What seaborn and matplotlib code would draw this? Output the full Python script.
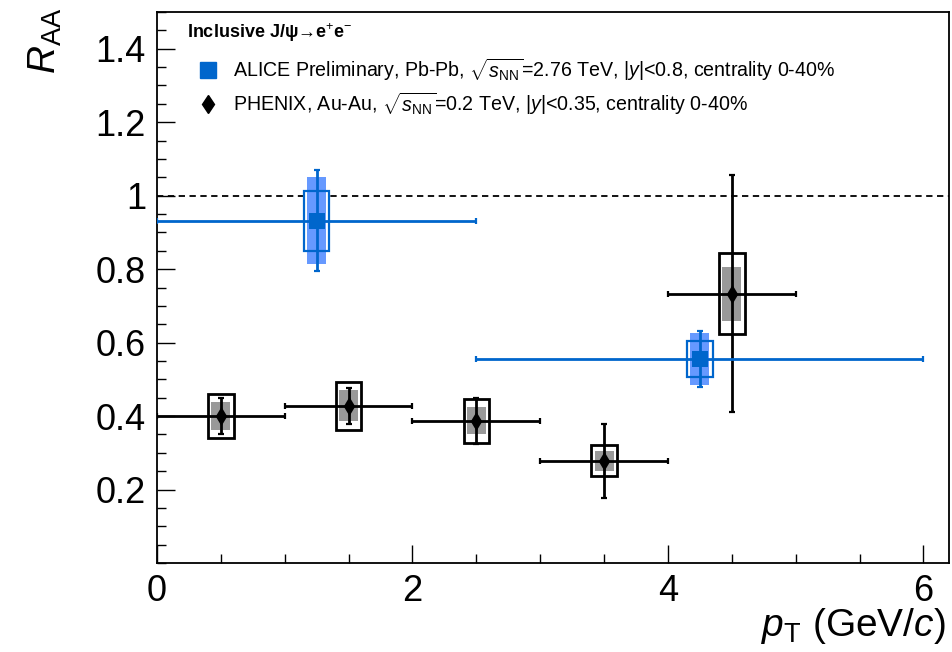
import numpy as np
import pandas as pd
import matplotlib
matplotlib.use("Agg")
import matplotlib.pyplot as plt
import seaborn as sns
from matplotlib.patches import Rectangle
from matplotlib.lines import Line2D
from matplotlib.ticker import MultipleLocator, FixedLocator

# ---------------- data ----------------
alice_pt = [1.25, 4.25]
alice_pt_lo = [0.0, 2.5]
alice_pt_hi = [2.5, 6.0]
alice_raa = [0.932, 0.556]
alice_stat = [0.138, 0.076]
alice_sys_unc = [0.082, 0.049]   # open box half-height
alice_sys_cor = [0.118, 0.071]   # filled box half-height

phenix_pt = [0.5, 1.5, 2.5, 3.5, 4.5]
phenix_pt_lo = [0.0, 1.0, 2.0, 3.0, 4.0]
phenix_pt_hi = [1.0, 2.0, 3.0, 4.0, 5.0]
phenix_raa = [0.400, 0.428, 0.387, 0.278, 0.733]
phenix_stat = [0.050, 0.049, 0.063, 0.100, 0.322]
phenix_sys_unc = [0.061, 0.065, 0.059, 0.042, 0.110]
phenix_sys_cor = [0.039, 0.042, 0.037, 0.027, 0.073]

xticks = [0, 2, 4, 6]
yticks = [0.2, 0.4, 0.6, 0.8, 1.0, 1.2, 1.4]
ytick_labels = ["0.2", "0.4", "0.6", "0.8", "1", "1.2", "1.4"]

alice_label = r"ALICE Preliminary, Pb-Pb, $\sqrt{s_{\rm NN}}$=2.76 TeV, $|y|$<0.8, centrality 0-40%"
phenix_label = r"PHENIX, Au-Au, $\sqrt{s_{\rm NN}}$=0.2 TeV, $|y|$<0.35, centrality 0-40%"
title_label = "Inclusive J/\u03c8\u2192e$^{+}$e$^{-}$"

# ---------------- style ----------------
sns.set_style("ticks")
plt.rcParams["font.family"] = ["Liberation Sans", "DejaVu Sans"]
plt.rcParams["mathtext.fontset"] = "custom"
plt.rcParams["mathtext.rm"] = "Liberation Sans"
plt.rcParams["mathtext.it"] = "Liberation Sans:italic"
plt.rcParams["mathtext.bf"] = "Liberation Sans:bold"
plt.rcParams["text.color"] = "black"
plt.rcParams["xtick.color"] = "black"
plt.rcParams["ytick.color"] = "black"
plt.rcParams["xtick.labelcolor"] = "black"
plt.rcParams["ytick.labelcolor"] = "black"

BLUE = "#0066cc"
LIGHTBLUE = "#6699ff"
GRAY = "#999999"

W, H = 953, 652
fig = plt.figure(figsize=(W / 100, H / 100), dpi=100)
L, R, T, B = 157, 949, 12, 563
ax = fig.add_axes([L / W, 1 - B / H, (R - L) / W, (B - T) / H])
ax.set_xlim(0, 6.2)
ax.set_ylim(0, 1.5)

# reference line
ax.axhline(1.0, color="black", lw=1.3, ls=(0, (3.5, 2.5)), zorder=1)

df_a = pd.DataFrame(dict(pt=alice_pt, lo=alice_pt_lo, hi=alice_pt_hi, raa=alice_raa,
                         stat=alice_stat, su=alice_sys_unc, sc=alice_sys_cor))
df_p = pd.DataFrame(dict(pt=phenix_pt, lo=phenix_pt_lo, hi=phenix_pt_hi, raa=phenix_raa,
                         stat=phenix_stat, su=phenix_sys_unc, sc=phenix_sys_cor))

OPEN_HW = 0.10
FILL_HW = 0.075

# PHENIX
for _, r in df_p.iterrows():
    ax.add_patch(Rectangle((r.pt - FILL_HW, r.raa - r.sc), 2 * FILL_HW, 2 * r.sc,
                           facecolor=GRAY, edgecolor="none", zorder=2))
    ax.add_patch(Rectangle((r.pt - OPEN_HW, r.raa - r.su), 2 * OPEN_HW, 2 * r.su,
                           facecolor="none", edgecolor="black", lw=2.0, zorder=3))
ax.errorbar(df_p.pt, df_p.raa,
            xerr=[df_p.pt - df_p.lo, df_p.hi - df_p.pt], yerr=df_p.stat,
            fmt="none", ecolor="black", elinewidth=2.0, capsize=2.2, capthick=1.6, zorder=4)

# ALICE
for _, r in df_a.iterrows():
    ax.add_patch(Rectangle((r.pt - FILL_HW, r.raa - r.sc), 2 * FILL_HW, 2 * r.sc,
                           facecolor=LIGHTBLUE, edgecolor="none", zorder=2))
    ax.add_patch(Rectangle((r.pt - OPEN_HW, r.raa - r.su), 2 * OPEN_HW, 2 * r.su,
                           facecolor="none", edgecolor=BLUE, lw=1.6, zorder=3))
ax.errorbar(df_a.pt, df_a.raa,
            xerr=[df_a.pt - df_a.lo, df_a.hi - df_a.pt], yerr=df_a.stat,
            fmt="none", ecolor=BLUE, elinewidth=2.0, capsize=2.2, capthick=1.6, zorder=4)

sns.scatterplot(data=df_p, x="pt", y="raa", marker="d", s=95, color="black",
                edgecolor="black", linewidth=0, ax=ax, zorder=5)
sns.scatterplot(data=df_a, x="pt", y="raa", marker="s", s=125, color=BLUE,
                edgecolor=BLUE, linewidth=0, ax=ax, zorder=5)

# axes formatting
ax.set_xlabel("")
ax.set_ylabel("")
ax.xaxis.set_major_locator(FixedLocator(xticks))
ax.xaxis.set_minor_locator(MultipleLocator(0.5))
ax.yaxis.set_major_locator(FixedLocator(yticks))
ax.yaxis.set_minor_locator(MultipleLocator(0.05))
ax.set_yticklabels(ytick_labels)
ax.tick_params(which="both", direction="in", top=False, right=False, width=1.0,
               color="black", labelcolor="black")
ax.tick_params(which="major", length=13, labelsize=26, pad=8)
ax.tick_params(which="minor", length=6.5)
for s in ax.spines.values():
    s.set_linewidth(1.3)
    s.set_color("black")

fig.text(45 / W, 1 - 8 / H, r"$R_{\rm AA}$", rotation=90, ha="center", va="top", fontsize=28)
fig.text(946 / W, 1 - 626 / H, r"$p_{\rm T}$ (GeV/$c$)", ha="right", va="center", fontsize=28)

# legend
fig.text(187 / W, 1 - 33 / H, title_label, ha="left", va="center", fontsize=13, fontweight="bold")
fig.add_artist(Line2D([208 / W], [1 - 70 / H], marker="s", markersize=11, color=BLUE,
                      transform=fig.transFigure, lw=0))
fig.text(233 / W, 1 - 70 / H, alice_label, ha="left", va="center", fontsize=14.1)
fig.add_artist(Line2D([208 / W], [1 - 104 / H], marker="d", markersize=9.5, color="black",
                      transform=fig.transFigure, lw=0))
fig.text(233 / W, 1 - 104 / H, phenix_label, ha="left", va="center", fontsize=14.1)

fig.savefig("out.png", dpi=100)
